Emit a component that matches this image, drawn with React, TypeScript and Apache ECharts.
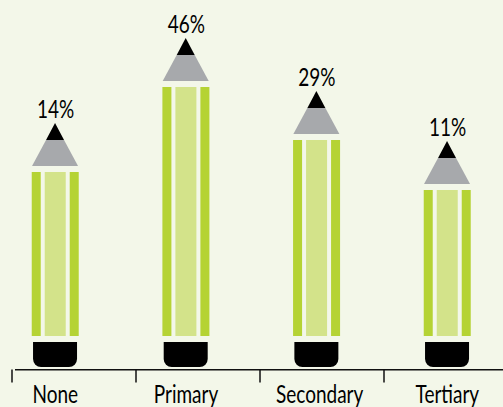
import React, { useEffect, useRef } from "react";
import * as echarts from "echarts";

const categories = ["None", "Primary", "Secondary", "Tertiary"];
const shareLabels = ["14%", "46%", "29%", "11%"];
// Drawn height of each pencil body (px above the body base)
const pencilHeights = [164, 249, 196, 146];

const FONT = 'Lato, "Open Sans", sans-serif';
const LIME = "#b5d334";
const PALE = "#d3e38a";
const GREY = "#a7a9ac";
const BG = "#f3f7e9";
const NARROW = 0.76;

function narrowText(x: number, y: number, text: string) {
  return {
    type: "text",
    x,
    y,
    scaleX: NARROW,
    style: {
      x: 0,
      y: 0,
      text,
      fill: "#000",
      font: `25px ${FONT}`,
      align: "center",
      verticalAlign: "middle",
    },
  };
}

function renderPencil(params: any, api: any) {
  const i = params.dataIndex;
  const [cx, top] = api.coord([api.value(0), api.value(1)]);
  const [, base] = api.coord([api.value(0), 0]);
  const c = cx - 0.3;
  const body = (x0: number, x1: number, fill: string) => ({
    type: "rect",
    shape: { x: c + x0, y: top, width: x1 - x0, height: base - top },
    style: { fill },
  });
  return {
    type: "group",
    children: [
      body(-23.3, -14.3, LIME),
      body(-10.3, 10.7, PALE),
      body(14.7, 23.7, LIME),
      {
        type: "polygon",
        shape: { points: [[c - 9, top - 32], [c + 9, top - 32], [c + 23, top - 6], [c - 23, top - 6]] },
        style: { fill: GREY },
      },
      {
        type: "polygon",
        shape: { points: [[c, top - 49], [c + 9, top - 32], [c - 9, top - 32]] },
        style: { fill: "#000" },
      },
      {
        type: "rect",
        shape: { x: c - 22, y: base + 6, width: 44, height: 25, r: [0, 0, 8, 8] },
        style: { fill: "#000" },
      },
      narrowText(cx + 0.3, top - 64, shareLabels[i]),
      narrowText(cx + (i === 2 ? 3 : 0), base + 57, categories[i]),
    ],
  };
}

export default function App() {
  const ref = useRef<HTMLDivElement>(null);
  useEffect(() => {
    const chart = echarts.init(ref.current!, undefined, { renderer: "svg" });
    chart.setOption({
      animation: false,
      backgroundColor: BG,
      grid: [
        { left: -10, width: 522.67, top: 0, bottom: 71, outerBoundsMode: "none" },
        { left: 12, width: 496, top: 0, bottom: 37.5, outerBoundsMode: "none" },
      ],
      xAxis: [
        {
          type: "category",
          gridIndex: 0,
          data: categories,
          axisLine: { show: false },
          axisTick: { show: false },
          axisLabel: { show: false },
        },
        {
          type: "value",
          gridIndex: 1,
          min: 0,
          max: 4,
          interval: 1,
          splitLine: { show: false },
          axisLine: { show: false },
          axisLabel: { show: false },
          axisTick: { show: true, length: 13, lineStyle: { color: "#111", width: 1.5 } },
        },
      ],
      yAxis: [
        { type: "value", gridIndex: 0, min: 0, max: 336, show: false },
        { type: "value", gridIndex: 1, min: 0, max: 1, show: false },
      ],
      graphic: [
        {
          type: "line",
          shape: { x1: 15, y1: 369.7, x2: 503, y2: 369.7 },
          style: { stroke: "#111", lineWidth: 1.5 },
        },
      ],
      series: [
        {
          type: "custom",
          xAxisIndex: 0,
          yAxisIndex: 0,
          clip: false,
          renderItem: renderPencil,
          encode: { x: 0, y: 1 },
          data: categories.map((c, i) => [i, pencilHeights[i]]),
        },
      ],
    });
    return () => chart.dispose();
  }, []);
  return <div ref={ref} style={{ position: "fixed", left: 0, top: 0, width: 503, height: 407 }} />;
}
